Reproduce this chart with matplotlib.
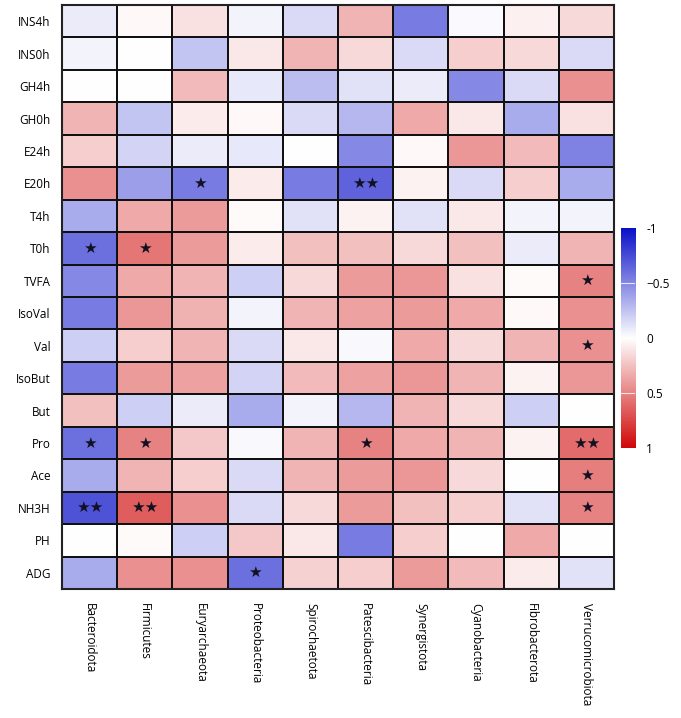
import numpy as np
import matplotlib.pyplot as plt
from matplotlib.colors import LinearSegmentedColormap

plt.rcParams["font.family"] = ["Open Sans", "DejaVu Sans"]

rows = ["INS4h", "INS0h", "GH4h", "GH0h", "E24h", "E20h", "T4h", "T0h", "TVFA",
        "IsoVal", "Val", "IsoBut", "But", "Pro", "Ace", "NH3H", "PH", "ADG"]
cols = ["Bacteroidota", "Firmicutes", "Euryarchaeota", "Proteobacteria", "Spirochaetota",
        "Patescibacteria", "Synergistota", "Cyanobacteria", "Fibrobacterota", "Verrucomicrobiota"]

# correlation values (estimated), row by row
vals = np.array([
    [-0.08, 0.03, 0.12, -0.05, -0.15, 0.30, -0.55, -0.02, 0.06, 0.15],
    [-0.05, 0.00, -0.25, 0.10, 0.30, 0.15, -0.15, 0.20, 0.15, -0.15],
    [0.00, 0.00, 0.28, -0.10, -0.28, -0.12, -0.08, -0.50, -0.15, 0.45],
    [0.30, -0.25, 0.08, 0.03, -0.15, -0.30, 0.35, 0.10, -0.35, 0.12],
    [0.20, -0.18, -0.08, -0.10, 0.00, -0.50, 0.03, 0.42, 0.28, -0.52],
    [0.45, -0.40, -0.55, 0.08, -0.55, -0.65, 0.05, -0.15, 0.20, -0.35],
    [-0.35, 0.35, 0.40, 0.02, -0.12, 0.05, -0.12, 0.10, -0.05, -0.05],
    [-0.60, 0.55, 0.40, 0.08, 0.25, 0.25, 0.15, 0.25, -0.08, 0.30],
    [-0.50, 0.35, 0.30, -0.20, 0.15, 0.40, 0.42, 0.12, 0.02, 0.50],
    [-0.55, 0.42, 0.32, -0.05, 0.30, 0.38, 0.40, 0.35, 0.03, 0.45],
    [-0.20, 0.20, 0.30, -0.15, 0.10, -0.03, 0.35, 0.15, 0.30, 0.45],
    [-0.55, 0.40, 0.38, -0.18, 0.28, 0.38, 0.42, 0.30, 0.05, 0.42],
    [0.25, -0.20, -0.08, -0.35, -0.05, -0.30, 0.30, 0.15, -0.20, 0.00],
    [-0.60, 0.50, 0.22, -0.03, 0.30, 0.50, 0.35, 0.30, 0.05, 0.60],
    [-0.35, 0.30, 0.20, -0.15, 0.30, 0.40, 0.42, 0.15, 0.00, 0.52],
    [-0.72, 0.65, 0.45, -0.15, 0.15, 0.40, 0.25, 0.20, -0.12, 0.50],
    [0.00, 0.02, -0.20, 0.22, 0.10, -0.55, 0.20, 0.00, 0.35, 0.00],
    [-0.35, 0.45, 0.45, -0.60, 0.18, 0.20, 0.40, 0.28, 0.08, -0.12],
])

# significance stars: (row, col, text)
stars = [
    ("E20h", "Euryarchaeota", "★"), ("E20h", "Patescibacteria", "★★"),
    ("T0h", "Bacteroidota", "★"), ("T0h", "Firmicutes", "★"),
    ("TVFA", "Verrucomicrobiota", "★"), ("Val", "Verrucomicrobiota", "★"),
    ("Pro", "Bacteroidota", "★"), ("Pro", "Firmicutes", "★"),
    ("Pro", "Patescibacteria", "★"), ("Pro", "Verrucomicrobiota", "★★"),
    ("Ace", "Verrucomicrobiota", "★"),
    ("NH3H", "Bacteroidota", "★★"), ("NH3H", "Firmicutes", "★★"),
    ("NH3H", "Verrucomicrobiota", "★"), ("ADG", "Proteobacteria", "★"),
]

cmap = LinearSegmentedColormap.from_list("bwr_c", ["#0a10c8", "#ffffff", "#d00808"])

fig = plt.figure(figsize=(6.81, 7.18), dpi=100)
ax = fig.add_axes([0.091, 0.1797, 0.8106, 0.8133])
ax.pcolormesh(vals, cmap=cmap, vmin=-1, vmax=1, edgecolors="#111111", linewidth=1.3)
ax.set_xlim(0, len(cols))
ax.set_ylim(len(rows), 0)
ax.set_xticks(np.arange(len(cols)) + 0.5)
ax.set_xticklabels(cols, rotation=-90, fontsize=8.5, va="top", ha="center")
ax.set_yticks(np.arange(len(rows)) + 0.5)
ax.set_yticklabels(rows, fontsize=8.5)
ax.tick_params(length=0, pad=10)
ax.tick_params(axis="y", pad=8)
for s in ax.spines.values():
    s.set_linewidth(1.5)
    s.set_color("#222222")

for r, c, t in stars:
    ax.text(cols.index(c) + 0.5, rows.index(r) + 0.5, t, ha="center", va="center",
            fontsize=11, color="#111122", family="DejaVu Sans")

# colorbar
cax = fig.add_axes([0.912, 0.376, 0.0206, 0.306])
grad = np.linspace(-1, 1, 256).reshape(-1, 1)
cax.imshow(grad, cmap=cmap, vmin=-1, vmax=1, aspect="auto", extent=[0, 1, 1, -1])
for v in [-0.5, 0, 0.5]:
    cax.axhline(v, color="white", lw=0.8, alpha=0.8)
cax.set_ylim(1, -1)
cax.set_xticks([])
cax.yaxis.tick_right()
cax.set_yticks([-1, -0.5, 0, 0.5, 1])
cax.set_yticklabels(["-1", "\u22120.5", "0", "0.5", "1"], fontsize=8.5)
cax.tick_params(length=0, pad=8)
for s in cax.spines.values():
    s.set_visible(False)

plt.savefig("out.png", dpi=100)
